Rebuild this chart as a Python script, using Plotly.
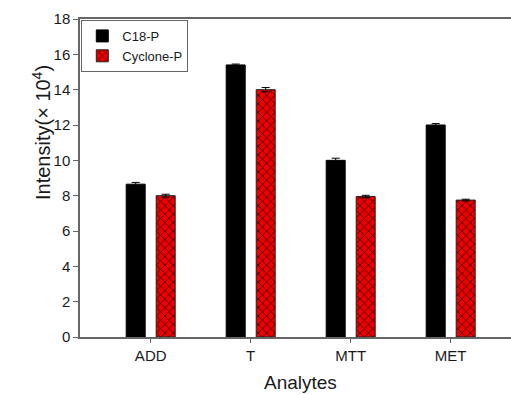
import plotly.graph_objects as go

categories = ["ADD", "T", "MTT", "MET"]
c18_values = [8.65, 15.4, 10.0, 12.0]
c18_errors = [0.1, 0.05, 0.12, 0.08]
cyclone_values = [8.0, 14.0, 7.95, 7.75]
cyclone_errors = [0.08, 0.12, 0.07, 0.05]
y_ticks = [0, 2, 4, 6, 8, 10, 12, 14, 16, 18]

font_family = "Liberation Sans, Arial, sans-serif"
axis_color = "#666666"

fig = go.Figure()
fig.add_trace(go.Bar(
    name="C18-P", x=categories, y=c18_values,
    marker=dict(color="black", line=dict(color="black", width=1)),
    error_y=dict(type="data", array=c18_errors, color="black", thickness=1, width=4),
))
fig.add_trace(go.Bar(
    name="Cyclone-P", x=categories, y=cyclone_values,
    marker=dict(color="#ee0000", line=dict(color="#222222", width=1),
                pattern=dict(shape="x", fgcolor="#3a0000", bgcolor="#ee0000",
                             size=6, solidity=0.25, fillmode="replace")),
    error_y=dict(type="data", array=cyclone_errors, color="black", thickness=1, width=4),
))

L, R, T, B, W, H = 80, 0, 19, 58, 511, 395
pw = W - L - R
ph = H - T - B


def px_to_paper(px, py):
    return (px - L) / pw, (H - B - py) / ph


ytx, yty = px_to_paper(41, 133)
xtx, xty = px_to_paper(300, 382)

fig.update_layout(
    width=W, height=H,
    margin=dict(l=L, r=R, t=T, b=B),
    paper_bgcolor="white", plot_bgcolor="white",
    barmode="group", bargap=0.4, bargroupgap=0.367,
    font=dict(family=font_family, color="#1a1a1a", size=15),
    showlegend=True,
    legend=dict(x=0.003, y=0.997, xanchor="left", yanchor="top",
                bordercolor=axis_color, borderwidth=1, bgcolor="white",
                font=dict(size=13, family=font_family), tracegroupgap=0,
                itemwidth=30),
    xaxis=dict(range=[-0.707, 3.603], showline=True, linecolor=axis_color, linewidth=1.5,
               mirror=True, ticks="outside", ticklen=4, tickcolor=axis_color,
               showgrid=False, zeroline=False, tickfont=dict(size=15)),
    yaxis=dict(range=[0, 18], tickvals=y_ticks, showline=True, linecolor=axis_color,
               linewidth=1.5, ticks="outside", ticklen=5, tickcolor=axis_color,
               showgrid=False, zeroline=False, tickfont=dict(size=15)),
    annotations=[
        dict(text="Intensity(× 10<sup>4</sup>)", x=ytx, y=yty, xref="paper", yref="paper",
             xanchor="center", yanchor="middle",
             showarrow=False, textangle=-90, font=dict(size=20)),
        dict(text="Analytes", x=xtx, y=xty, xref="paper", yref="paper",
             xanchor="center", yanchor="middle",
             showarrow=False, font=dict(size=19)),
    ],
)

fig.write_html("out.html")
